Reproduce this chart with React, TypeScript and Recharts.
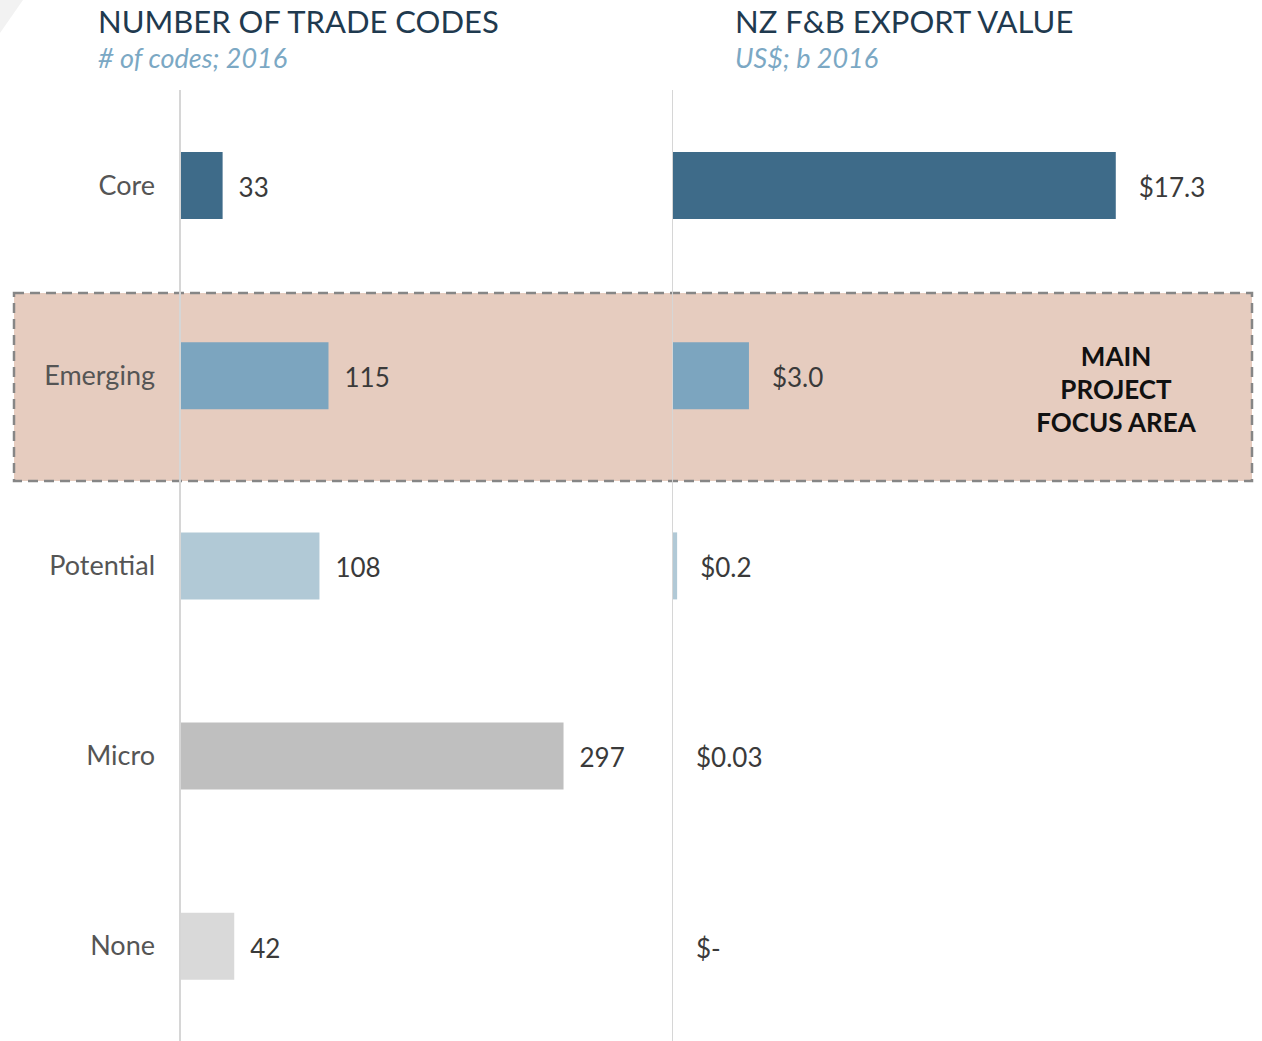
import React from 'react';
import { BarChart, Bar, XAxis, YAxis, Cell, LabelList, ReferenceLine } from 'recharts';

const categories = ['Core', 'Emerging', 'Potential', 'Micro', 'None'];
const tradeCodes = [33, 115, 108, 297, 42];
const exportValues = [17.3, 3.0, 0.2, 0.03, 0];
const exportLabels = ['$17.3', '$3.0', '$0.2', '$0.03', '$-'];
const barColors = ['#3E6B89', '#7CA5BF', '#B1C9D6', '#BFBFBF', '#D9D9D9'];

const leftTitle = 'NUMBER OF TRADE CODES';
const leftSubtitle = '# of codes; 2016';
const rightTitle = 'NZ F&B EXPORT VALUE';
const rightSubtitle = 'US$; b 2016';
const focusLines = ['MAIN', 'PROJECT', 'FOCUS AREA'];

const data = categories.map((name, i) => ({
  name,
  codes: tradeCodes[i],
  value: exportValues[i],
  label: exportLabels[i],
}));

const FONT = 'Lato, "Open Sans", sans-serif';
const AXIS_COLOR = '#D6D6D6';

export default function App() {
  return (
    <div
      style={{
        position: 'absolute',
        left: 0,
        top: 0,
        width: 1262,
        height: 1041,
        background: '#fff',
        overflow: 'hidden',
        fontFamily: FONT,
      }}
    >
      <svg style={{ position: 'absolute', left: 0, top: 0 }} width={1262} height={1041}>
        <polygon points="0,0 23,0 0,33" fill="#F2F2F2" />
        <rect
          x={14}
          y={293}
          width={1238}
          height={188}
          fill="#E6CCBF"
          stroke="#868686"
          strokeWidth={2.5}
          strokeDasharray="10 6"
        />
      </svg>

      {/* titles */}
      <div style={{ position: 'absolute', left: 98, top: 6, fontSize: 31, lineHeight: 1, color: '#1F3A4F', whiteSpace: 'nowrap' }}>
        {leftTitle}
      </div>
      <div style={{ position: 'absolute', left: 98, top: 44, fontSize: 27, lineHeight: 1, fontStyle: 'italic', fontWeight: 400, color: '#7BA8C4', whiteSpace: 'nowrap' }}>
        {leftSubtitle}
      </div>
      <div style={{ position: 'absolute', left: 735, top: 6, fontSize: 31, lineHeight: 1, color: '#1F3A4F', whiteSpace: 'nowrap' }}>
        {rightTitle}
      </div>
      <div style={{ position: 'absolute', left: 735, top: 44, fontSize: 27, lineHeight: 1, fontStyle: 'italic', fontWeight: 400, color: '#7BA8C4', whiteSpace: 'nowrap' }}>
        {rightSubtitle}
      </div>

      {/* left chart */}
      <div style={{ position: 'absolute', left: 0, top: 0 }}>
        <BarChart
          width={672}
          height={1041}
          data={data}
          layout="vertical"
          margin={{ top: 90, right: 0, bottom: 0, left: 0 }}
        >
          <XAxis type="number" hide domain={[0, 381]} />
          <YAxis
            type="category"
            dataKey="name"
            width={180}
            axisLine={{ stroke: AXIS_COLOR, strokeWidth: 2 }}
            tickLine={false}
            tickSize={0}
            tickMargin={25}
            tick={{ fontSize: 27, fill: '#555555', fontFamily: FONT }}
          />
          <Bar dataKey="codes" barSize={67} isAnimationActive={false}>
            {data.map((d, i) => (
              <Cell key={d.name} fill={barColors[i]} />
            ))}
            <LabelList
              dataKey="codes"
              position="right"
              offset={16}
              dy={2}
              style={{ fontSize: 26, fill: '#3A3A3A', fontFamily: FONT }}
            />
          </Bar>
        </BarChart>
      </div>

      {/* right chart */}
      <div style={{ position: 'absolute', left: 672, top: 0 }}>
        <BarChart
          width={590}
          height={1041}
          data={data}
          layout="vertical"
          margin={{ top: 90, right: 0, bottom: 0, left: 0 }}
        >
          <XAxis type="number" hide domain={[0, 23]} />
          <YAxis type="category" dataKey="name" hide />
          <Bar dataKey="value" barSize={67} minPointSize={1} isAnimationActive={false}>
            {data.map((d, i) => (
              <Cell key={d.name} fill={barColors[i]} />
            ))}
            <LabelList
              dataKey="label"
              position="right"
              offset={23}
              dy={2}
              style={{ fontSize: 26, fill: '#3A3A3A', fontFamily: FONT }}
            />
          </Bar>
          <ReferenceLine x={0} stroke={AXIS_COLOR} strokeWidth={2} />
        </BarChart>
      </div>

      {/* focus area text */}
      <div
        style={{
          position: 'absolute',
          left: 1016,
          top: 340,
          width: 200,
          textAlign: 'center',
          fontSize: 26,
          lineHeight: '33px',
          fontWeight: 700,
          color: '#111',
        }}
      >
        {focusLines.map((l) => (
          <div key={l}>{l}</div>
        ))}
      </div>
    </div>
  );
}
